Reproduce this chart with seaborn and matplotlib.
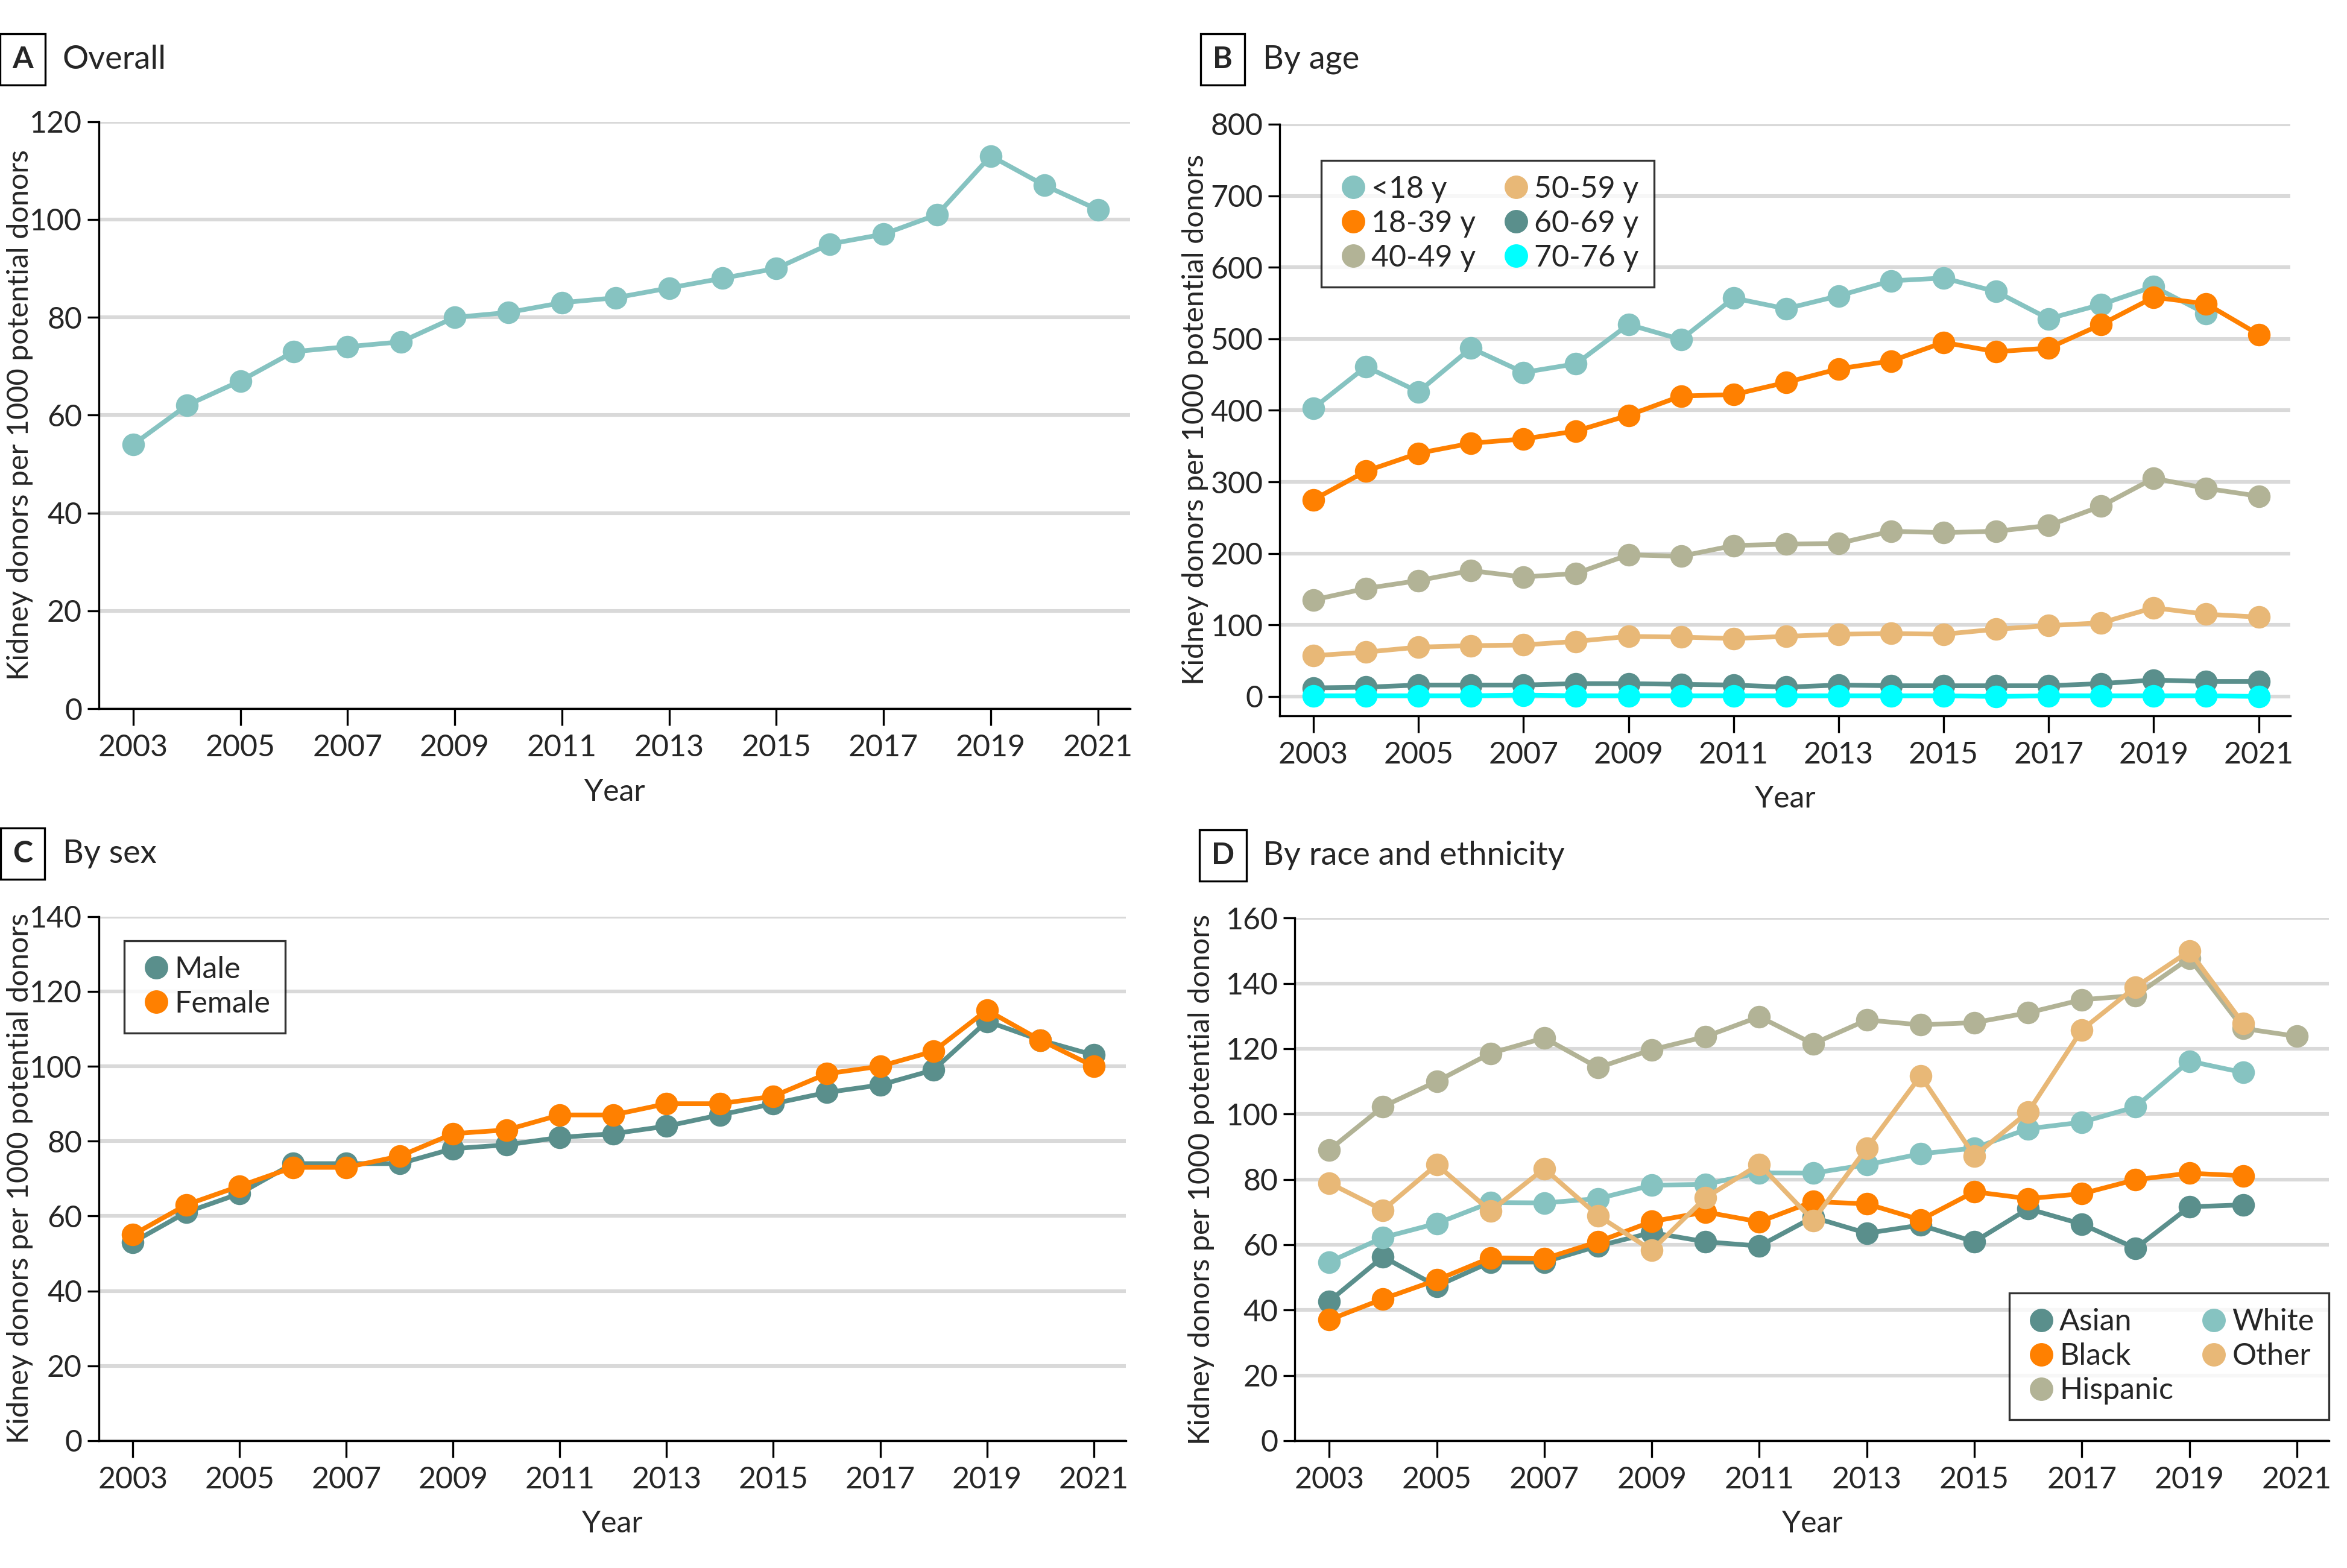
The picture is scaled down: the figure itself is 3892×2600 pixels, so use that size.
import numpy as np
import pandas as pd
import seaborn as sns
import matplotlib.pyplot as plt
from matplotlib.lines import Line2D

years = list(range(2003, 2022))

# A: overall
overall = [54, 62, 67, 73, 74, 75, 80, 81, 83, 84, 86, 88, 90, 95, 97, 101, 113, 107, 102]

# B: by age
age_lt18 = [403, 461, 426, 487, 453, 465, 520, 499, 557, 542, 560, 581, 585, 566, 528, 548, 573, 535, np.nan]
age_18_39 = [275, 315, 340, 354, 360, 371, 393, 420, 422, 439, 458, 469, 495, 482, 487, 520, 558, 549, 506]
age_40_49 = [135, 151, 162, 176, 167, 172, 198, 196, 211, 213, 214, 231, 229, 231, 239, 266, 305, 291, 280]
age_50_59 = [57, 62, 69, 71, 72, 77, 84, 83, 81, 84, 87, 88, 87, 94, 99, 103, 124, 115, 111]
age_60_69 = [12, 13, 16, 16, 16, 18, 18, 17, 16, 13, 16, 15, 15, 15, 15, 18, 23, 21, 21]
age_70_76 = [1, 1, 1, 1, 2, 1, 1, 1, 1, 1, 1, 1, 1, 0, 1, 1, 1, 1, 0]

# C: by sex
male = [53, 61, 66, 74, 74, 74, 78, 79, 81, 82, 84, 87, 90, 93, 95, 99, 112, 107, 103]
female = [55, 63, 68, 73, 73, 76, 82, 83, 87, 87, 90, 90, 92, 98, 100, 104, 115, 107, 100]

# D: by race and ethnicity
asian = [42.7, 56.3, 47.3, 54.7, 54.7, 59.6, 63.7, 60.9, 59.6, 68.4, 63.5, 66, 60.9, 71, 66.3, 58.9, 71.6, 72.2, np.nan]
black = [37, 43.4, 49.2, 56, 55.7, 60.9, 67.1, 70, 67, 73.2, 72.5, 67.6, 76.2, 74.1, 75.6, 79.9, 81.9, 81.1, np.nan]
hispanic = [89, 102.3, 110, 118.6, 123.3, 114.2, 119.7, 123.7, 129.8, 121.5, 128.8, 127.3, 128, 131, 135, 136.3, 147.7, 126.2, 123.8]
white = [54.7, 62.2, 66.5, 72.9, 72.8, 74.1, 78.2, 78.5, 82, 81.9, 84.5, 87.8, 89.6, 95.5, 97.5, 102.2, 116.2, 112.7, np.nan]
other = [78.9, 70.6, 84.5, 70.3, 83.3, 68.9, 58.3, 74.4, 84.6, 67.4, 89.6, 111.7, 87.2, 100.6, 125.8, 138.9, 149.9, 127.7, np.nan]

c_teal_light = "#86C3C1"
c_orange = "#FF8000"
c_khaki = "#B2B396"
c_tan = "#E8B877"
c_teal_dark = "#5A8F8C"
c_cyan = "#00FFFF"

sns.set_theme(style="white")
plt.rcParams['font.family'] = ['Lato', 'DejaVu Sans']

FS = 18


def long_df(series):
    rows = []
    for name, vals in series.items():
        for y, v in zip(years, vals):
            rows.append({"Year": y, "value": v, "group": name})
    return pd.DataFrame(rows)


def style_axis(ax, ymax, ystep, ylab_x, ymin=0):
    ax.set_ylim(ymin, ymax)
    ax.set_yticks(np.arange(0, ymax + 1, ystep))
    ax.set_xlim(2002.36, 2021.6)
    ax.set_xticks(list(range(2003, 2022, 2)))
    ax.yaxis.grid(True, color="#d9d9d9", linewidth=2.2)
    ax.xaxis.grid(False)
    ax.set_axisbelow(True)
    for s in ["top", "right"]:
        ax.spines[s].set_visible(False)
    for s in ["left", "bottom"]:
        ax.spines[s].set_color("black")
        ax.spines[s].set_linewidth(1.2)
    ax.spines["left"].set_bounds(ymin, ymax)
    ax.tick_params(axis="both", which="major", labelsize=FS, direction="out",
                   length=7, width=1.2, color="black", left=True, bottom=True)
    ax.tick_params(axis="y", pad=3)
    ax.tick_params(axis="x", length=10, pad=5)
    ax.set_xlabel("Year", fontsize=FS, labelpad=10)
    ax.set_ylabel("Kidney donors per 1000 potential donors", fontsize=FS - 0.5)
    pos = ax.get_position()
    ax.yaxis.set_label_coords(ylab_x, pos.y0 + pos.height / 2, transform=fig.transFigure)


def draw(ax, series, palette):
    df = long_df(series)
    sns.lineplot(data=df, x="Year", y="value", hue="group", hue_order=list(series.keys()),
                 palette=palette, marker="o", markersize=13.5, markeredgewidth=0,
                 linewidth=2.8, estimator=None, ax=ax, legend=False)


def add_legend(ax, names, colors, ncol=2, **kw):
    handles = [Line2D([], [], linestyle="none", marker="o", markersize=14,
                      markerfacecolor=c, markeredgewidth=0) for c in colors]
    leg = ax.legend(handles, names, ncol=ncol, fontsize=FS, frameon=True,
                    fancybox=False, edgecolor="black", handletextpad=0.05,
                    columnspacing=0.8, labelspacing=0.22, borderpad=0.5,
                    handlelength=1.1, borderaxespad=0, **kw)
    leg.get_frame().set_linewidth(1.2)


def panel_title(x, y, letter, text):
    fig.text(x, y, letter, fontsize=FS, fontweight="bold", ha="center", va="center",
             bbox=dict(boxstyle="square,pad=0.4", facecolor="white", edgecolor="black", linewidth=1.2))
    fig.text(x + 0.017, y, text, fontsize=FS + 1.5, ha="left", va="center")


fig = plt.figure(figsize=(19.46, 13), dpi=200)
axA = fig.add_axes([0.0421, 0.548, 0.4394, 0.3744])
axB = fig.add_axes([0.5453, 0.5435, 0.4305, 0.3773])
axC = fig.add_axes([0.0421, 0.0812, 0.4375, 0.3343])
axD = fig.add_axes([0.5517, 0.0812, 0.4407, 0.3333])

# A
draw(axA, {"Overall": overall}, [c_teal_light])
style_axis(axA, 120, 20, 0.0142)

# B
age_series = {"<18 y": age_lt18, "18-39 y": age_18_39, "40-49 y": age_40_49,
              "50-59 y": age_50_59, "60-69 y": age_60_69, "70-76 y": age_70_76}
age_colors = [c_teal_light, c_orange, c_khaki, c_tan, c_teal_dark, c_cyan]
draw(axB, age_series, age_colors)
style_axis(axB, 800, 100, 0.5150, ymin=-27)
add_legend(axB, list(age_series.keys()), age_colors, loc="upper left", bbox_to_anchor=(0.041, 0.939))

# C
sex_series = {"Male": male, "Female": female}
draw(axC, sex_series, [c_teal_dark, c_orange])
style_axis(axC, 140, 20, 0.0142)
add_legend(axC, list(sex_series.keys()), [c_teal_dark, c_orange], ncol=1,
           loc="upper left", bbox_to_anchor=(0.025, 0.954))

# D
race_series = {"Asian": asian, "Black": black, "Hispanic": hispanic, "White": white, "Other": other}
race_colors = [c_teal_dark, c_orange, c_khaki, c_teal_light, c_tan]
draw(axD, race_series, race_colors)
style_axis(axD, 160, 20, 0.5175)
add_legend(axD, list(race_series.keys()), race_colors, loc="lower right", bbox_to_anchor=(1.0, 0.04))

panel_title(0.0096, 0.962, "A", "Overall")
panel_title(0.521, 0.962, "B", "By age")
panel_title(0.0096, 0.4556, "C", "By sex")
panel_title(0.521, 0.4546, "D", "By race and ethnicity")

fig.savefig("out.png", dpi=200, facecolor="white")
